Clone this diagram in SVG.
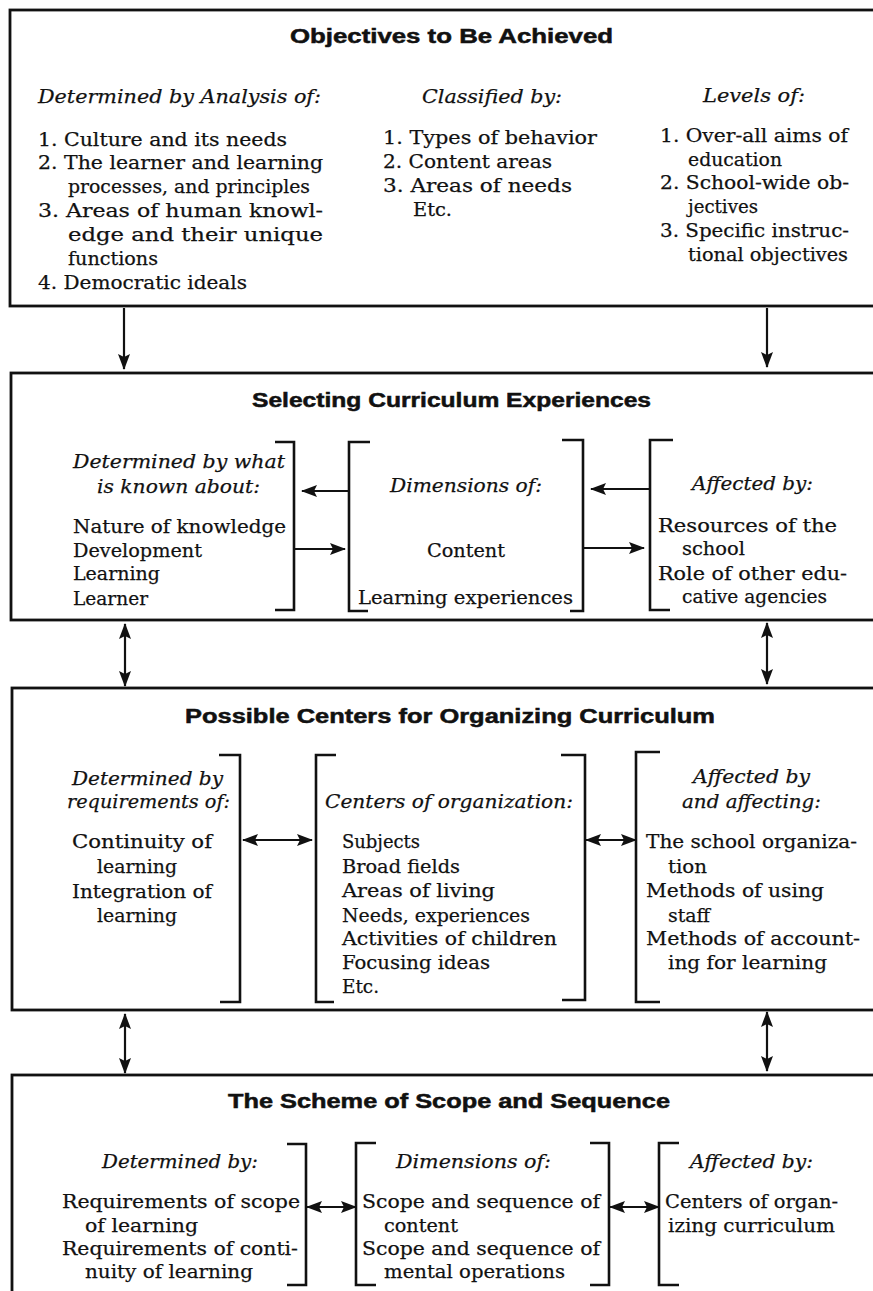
<svg xmlns="http://www.w3.org/2000/svg" width="873" height="1291" viewBox="0 0 873 1291">
<style>
.box{fill:none;stroke:#111;stroke-width:2.8}
.br{fill:none;stroke:#111;stroke-width:2.6}
.ar{fill:none;stroke:#111;stroke-width:2.2}
text{fill:#111}
.t{font-family:"Liberation Sans",Arial,sans-serif;font-weight:bold;font-size:20px;stroke:#111;stroke-width:0.5}
.h{font-family:"DejaVu Serif","Liberation Serif",serif;font-style:italic;font-size:19px;stroke:#111;stroke-width:0.25}
.b{font-family:"DejaVu Serif","Liberation Serif",serif;font-size:19px;stroke:#111;stroke-width:0.25}
</style>
<defs>
<marker id="ah" viewBox="0 0 16 12" refX="15" refY="6" markerWidth="16" markerHeight="12" markerUnits="userSpaceOnUse" orient="auto-start-reverse">
<path d="M0,0 L16,6 L0,12 L3,6 Z" fill="#111"/>
</marker>
</defs>
<rect width="873" height="1291" fill="#fff"/>

<g id="node-objectives">
<rect class="box" x="10" y="10" width="900" height="296"/>
<text class="t" x="290" y="43" textLength="323" lengthAdjust="spacingAndGlyphs">Objectives to Be Achieved</text>
<text class="h" x="38" y="103" textLength="283" lengthAdjust="spacingAndGlyphs">Determined by Analysis of:</text>
<text class="h" x="422" y="103" textLength="140" lengthAdjust="spacingAndGlyphs">Classified by:</text>
<text class="h" x="703" y="102" textLength="102" lengthAdjust="spacingAndGlyphs">Levels of:</text>
<text class="b" x="38" y="146" textLength="249" lengthAdjust="spacingAndGlyphs">1. Culture and its needs</text>
<text class="b" x="38" y="169" textLength="285" lengthAdjust="spacingAndGlyphs">2. The learner and learning</text>
<text class="b" x="68" y="193" textLength="242" lengthAdjust="spacingAndGlyphs">processes, and principles</text>
<text class="b" x="38" y="217" textLength="285" lengthAdjust="spacingAndGlyphs">3. Areas of human knowl-</text>
<text class="b" x="68" y="241" textLength="255" lengthAdjust="spacingAndGlyphs">edge and their unique</text>
<text class="b" x="68" y="265" textLength="90" lengthAdjust="spacingAndGlyphs">functions</text>
<text class="b" x="38" y="289" textLength="209" lengthAdjust="spacingAndGlyphs">4. Democratic ideals</text>
<text class="b" x="383" y="144" textLength="214" lengthAdjust="spacingAndGlyphs">1. Types of behavior</text>
<text class="b" x="383" y="168" textLength="169" lengthAdjust="spacingAndGlyphs">2. Content areas</text>
<text class="b" x="383" y="192" textLength="189" lengthAdjust="spacingAndGlyphs">3. Areas of needs</text>
<text class="b" x="413" y="216" textLength="39" lengthAdjust="spacingAndGlyphs">Etc.</text>
<text class="b" x="660" y="142" textLength="188" lengthAdjust="spacingAndGlyphs">1. Over-all aims of</text>
<text class="b" x="688" y="166" textLength="94" lengthAdjust="spacingAndGlyphs">education</text>
<text class="b" x="660" y="189" textLength="189" lengthAdjust="spacingAndGlyphs">2. School-wide ob-</text>
<text class="b" x="688" y="213" textLength="70" lengthAdjust="spacingAndGlyphs">jectives</text>
<text class="b" x="660" y="237" textLength="189" lengthAdjust="spacingAndGlyphs">3. Specific instruc-</text>
<text class="b" x="688" y="261" textLength="160" lengthAdjust="spacingAndGlyphs">tional objectives</text>
</g>

<g id="node-selecting">
<rect class="box" x="11" y="373" width="900" height="247"/>
<text class="t" x="252" y="407" textLength="399" lengthAdjust="spacingAndGlyphs">Selecting Curriculum Experiences</text>
<path class="br" d="M275,442 H294 V610 H275"/>
<path class="br" d="M370,442 H349 V611 H368"/>
<path class="br" d="M562,440 H583 V611 H570"/>
<path class="br" d="M673,440 H650 V610 H670"/>
<text class="h" x="73" y="468" textLength="212" lengthAdjust="spacingAndGlyphs">Determined by what</text>
<text class="h" x="97" y="493" textLength="163" lengthAdjust="spacingAndGlyphs">is known about:</text>
<text class="b" x="73" y="533" textLength="213" lengthAdjust="spacingAndGlyphs">Nature of knowledge</text>
<text class="b" x="73" y="557" textLength="129" lengthAdjust="spacingAndGlyphs">Development</text>
<text class="b" x="73" y="580" textLength="87" lengthAdjust="spacingAndGlyphs">Learning</text>
<text class="b" x="73" y="605" textLength="75" lengthAdjust="spacingAndGlyphs">Learner</text>
<text class="h" x="390" y="492" textLength="152" lengthAdjust="spacingAndGlyphs">Dimensions of:</text>
<text class="b" x="427" y="557" textLength="78" lengthAdjust="spacingAndGlyphs">Content</text>
<text class="b" x="358" y="604" textLength="215" lengthAdjust="spacingAndGlyphs">Learning experiences</text>
<text class="h" x="692" y="490" textLength="121" lengthAdjust="spacingAndGlyphs">Affected by:</text>
<text class="b" x="658" y="532" textLength="179" lengthAdjust="spacingAndGlyphs">Resources of the</text>
<text class="b" x="682" y="555" textLength="63" lengthAdjust="spacingAndGlyphs">school</text>
<text class="b" x="658" y="580" textLength="189" lengthAdjust="spacingAndGlyphs">Role of other edu-</text>
<text class="b" x="682" y="603" textLength="145" lengthAdjust="spacingAndGlyphs">cative agencies</text>
</g>

<g id="node-centers">
<rect class="box" x="12" y="688" width="900" height="322"/>
<text class="t" x="185" y="723" textLength="530" lengthAdjust="spacingAndGlyphs">Possible Centers for Organizing Curriculum</text>
<path class="br" d="M219,755 H240 V1002 H220"/>
<path class="br" d="M336,755 H316 V1002 H334"/>
<path class="br" d="M561,755 H585 V1000 H562"/>
<path class="br" d="M660,752 H636 V1002 H660"/>
<text class="h" x="72" y="785" textLength="151" lengthAdjust="spacingAndGlyphs">Determined by</text>
<text class="h" x="67" y="808" textLength="163" lengthAdjust="spacingAndGlyphs">requirements of:</text>
<text class="b" x="72" y="848" textLength="140" lengthAdjust="spacingAndGlyphs">Continuity of</text>
<text class="b" x="97" y="873" textLength="80" lengthAdjust="spacingAndGlyphs">learning</text>
<text class="b" x="72" y="898" textLength="140" lengthAdjust="spacingAndGlyphs">Integration of</text>
<text class="b" x="97" y="922" textLength="80" lengthAdjust="spacingAndGlyphs">learning</text>
<text class="h" x="325" y="808" textLength="248" lengthAdjust="spacingAndGlyphs">Centers of organization:</text>
<text class="b" x="342" y="848" textLength="78" lengthAdjust="spacingAndGlyphs">Subjects</text>
<text class="b" x="342" y="873" textLength="118" lengthAdjust="spacingAndGlyphs">Broad fields</text>
<text class="b" x="342" y="897" textLength="153" lengthAdjust="spacingAndGlyphs">Areas of living</text>
<text class="b" x="342" y="922" textLength="188" lengthAdjust="spacingAndGlyphs">Needs, experiences</text>
<text class="b" x="342" y="945" textLength="215" lengthAdjust="spacingAndGlyphs">Activities of children</text>
<text class="b" x="342" y="969" textLength="148" lengthAdjust="spacingAndGlyphs">Focusing ideas</text>
<text class="b" x="342" y="993" textLength="37" lengthAdjust="spacingAndGlyphs">Etc.</text>
<text class="h" x="693" y="783" textLength="117" lengthAdjust="spacingAndGlyphs">Affected by</text>
<text class="h" x="682" y="808" textLength="139" lengthAdjust="spacingAndGlyphs">and affecting:</text>
<text class="b" x="646" y="848" textLength="211" lengthAdjust="spacingAndGlyphs">The school organiza-</text>
<text class="b" x="668" y="873" textLength="39" lengthAdjust="spacingAndGlyphs">tion</text>
<text class="b" x="646" y="897" textLength="178" lengthAdjust="spacingAndGlyphs">Methods of using</text>
<text class="b" x="668" y="922" textLength="42" lengthAdjust="spacingAndGlyphs">staff</text>
<text class="b" x="646" y="945" textLength="214" lengthAdjust="spacingAndGlyphs">Methods of account-</text>
<text class="b" x="668" y="969" textLength="159" lengthAdjust="spacingAndGlyphs">ing for learning</text>
</g>

<g id="node-scheme">
<rect class="box" x="12" y="1075" width="900" height="260"/>
<text class="t" x="228" y="1108" textLength="442" lengthAdjust="spacingAndGlyphs">The Scheme of Scope and Sequence</text>
<path class="br" d="M287,1144 H306 V1285 H287"/>
<path class="br" d="M376,1143 H356 V1285 H376"/>
<path class="br" d="M590,1143 H609 V1285 H590"/>
<path class="br" d="M679,1143 H659 V1285 H679"/>
<text class="h" x="102" y="1168" textLength="156" lengthAdjust="spacingAndGlyphs">Determined by:</text>
<text class="b" x="62" y="1208" textLength="238" lengthAdjust="spacingAndGlyphs">Requirements of scope</text>
<text class="b" x="85" y="1232" textLength="113" lengthAdjust="spacingAndGlyphs">of learning</text>
<text class="b" x="62" y="1255" textLength="236" lengthAdjust="spacingAndGlyphs">Requirements of conti-</text>
<text class="b" x="85" y="1278" textLength="168" lengthAdjust="spacingAndGlyphs">nuity of learning</text>
<text class="h" x="396" y="1168" textLength="155" lengthAdjust="spacingAndGlyphs">Dimensions of:</text>
<text class="b" x="362" y="1208" textLength="238" lengthAdjust="spacingAndGlyphs">Scope and sequence of</text>
<text class="b" x="384" y="1232" textLength="74" lengthAdjust="spacingAndGlyphs">content</text>
<text class="b" x="362" y="1255" textLength="238" lengthAdjust="spacingAndGlyphs">Scope and sequence of</text>
<text class="b" x="384" y="1278" textLength="181" lengthAdjust="spacingAndGlyphs">mental operations</text>
<text class="h" x="690" y="1168" textLength="123" lengthAdjust="spacingAndGlyphs">Affected by:</text>
<text class="b" x="665" y="1208" textLength="173" lengthAdjust="spacingAndGlyphs">Centers of organ-</text>
<text class="b" x="668" y="1232" textLength="167" lengthAdjust="spacingAndGlyphs">izing curriculum</text>
</g>

<g id="connectors">
<line class="ar" x1="124" y1="308" x2="124" y2="369" marker-end="url(#ah)"/>
<line class="ar" x1="767" y1="308" x2="767" y2="367" marker-end="url(#ah)"/>
<line class="ar" x1="125" y1="624" x2="125" y2="686" marker-start="url(#ah)" marker-end="url(#ah)"/>
<line class="ar" x1="767" y1="623" x2="767" y2="684" marker-start="url(#ah)" marker-end="url(#ah)"/>
<line class="ar" x1="125" y1="1014" x2="125" y2="1073" marker-start="url(#ah)" marker-end="url(#ah)"/>
<line class="ar" x1="767" y1="1012" x2="767" y2="1071" marker-start="url(#ah)" marker-end="url(#ah)"/>
<line class="ar" x1="349" y1="491" x2="302" y2="491" marker-end="url(#ah)"/>
<line class="ar" x1="294" y1="549" x2="345" y2="549" marker-end="url(#ah)"/>
<line class="ar" x1="650" y1="489" x2="591" y2="489" marker-end="url(#ah)"/>
<line class="ar" x1="583" y1="548" x2="644" y2="548" marker-end="url(#ah)"/>
<line class="ar" x1="243" y1="840" x2="312" y2="840" marker-start="url(#ah)" marker-end="url(#ah)"/>
<line class="ar" x1="586" y1="840" x2="636" y2="840" marker-start="url(#ah)" marker-end="url(#ah)"/>
<line class="ar" x1="307" y1="1207" x2="356" y2="1207" marker-start="url(#ah)" marker-end="url(#ah)"/>
<line class="ar" x1="610" y1="1207" x2="659" y2="1207" marker-start="url(#ah)" marker-end="url(#ah)"/>
</g>
</svg>
